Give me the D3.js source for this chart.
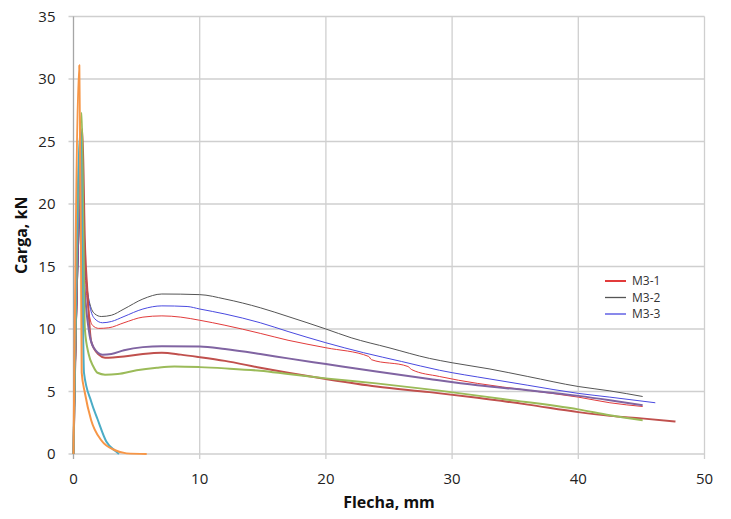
<!DOCTYPE html>
<html>
<head>
<meta charset="utf-8">
<script src="https://cdn.jsdelivr.net/npm/d3@7"></script>
<style>
  body { margin: 0; background: #fff; }
  svg text { font-family: "Open Sans", "Noto Sans", sans-serif; }
</style>
</head>
<body>
<div id="chart"></div>
<script>
// ensayos M3 : carga (kN) frente a flecha (mm)
var xTicks = [0, 10, 20, 30, 40, 50];
var yTicks = [0, 5, 10, 15, 20, 25, 30, 35];

var m31 = [[0,0],[0.7,22],[0.9,15],[1.2,11.5],[1.5,10.3],[2.0,10.05],[2.8,10.1],[4,10.5],[5.5,10.95],[7,11.05],[8.5,10.95],[10,10.7],[12,10.3],[14.8,9.65],[17,9.1],[20,8.5],[23.4,7.8],[23.6,7.55],[26.5,7.0],[26.8,6.75],[29,6.2],[32,5.65],[36,5.1],[40,4.55],[42.5,4.1],[45.1,3.8]];
var m32 = [[0,0],[0.7,22],[0.95,15],[1.3,12],[1.7,11.2],[2.2,11.0],[3,11.1],[4,11.6],[5.5,12.4],[7,12.8],[10,12.75],[12,12.4],[14.8,11.7],[17,11.0],[20,10.0],[22,9.3],[25,8.5],[28.2,7.65],[30,7.3],[33,6.8],[36,6.2],[40,5.4],[42.5,5.05],[45.1,4.6]];
var m33 = [[0,0],[0.7,22],[0.95,15],[1.3,11.8],[1.7,10.8],[2.3,10.5],[3,10.6],[4,11.0],[5.5,11.6],[7,11.85],[9,11.8],[10,11.6],[12,11.2],[14.8,10.5],[17,9.8],[20,8.9],[23,8.1],[26,7.4],[29,6.7],[33,6.0],[36,5.5],[40,4.85],[42.5,4.55],[46.1,4.1]];
var serieRoja = [[0,0],[0.7,26],[0.9,17],[1.1,13],[1.4,9],[2,7.95],[2.5,7.7],[4,7.8],[5.5,8.0],[7,8.1],[8.5,7.95],[10,7.75],[12,7.45],[14.8,6.9],[17,6.5],[20,6.0],[24,5.4],[28.2,4.95],[32,4.5],[36,3.95],[40,3.35],[42.5,3.05],[45,2.85],[47.7,2.6]];
var serieVerde = [[0,0],[0.65,27.3],[0.78,18],[0.9,10],[1.2,8],[1.57,7],[1.9,6.5],[2.5,6.35],[3.5,6.4],[5,6.7],[6.6,6.9],[8,7.0],[10,6.95],[12,6.85],[14.8,6.66],[17,6.4],[20,6.05],[24,5.65],[29,5.07],[34,4.4],[40,3.57],[42.5,3.1],[45.1,2.7]];
var serieMorada = [[0,0],[0.65,25],[0.8,15],[1.2,10],[1.6,8.5],[2.3,7.95],[3,8.0],[4,8.3],[5.5,8.55],[7,8.62],[10,8.6],[12,8.4],[14.8,8.0],[17,7.65],[20,7.2],[24,6.6],[28.2,6.0],[32,5.5],[36,5.1],[40,4.65],[42.5,4.3],[45.1,3.9]];
var serieCian = [[0,0],[0.55,26],[0.83,6.5],[1.4,4.2],[1.9,2.8],[2.6,1.0],[3.3,0.25],[3.6,0]];
var serieNaranja = [[0,0],[0.46,31.1],[0.6,15],[0.65,6.5],[0.9,4.9],[1.4,2.7],[2.2,1.1],[3.3,0.3],[4.2,0.05],[5.8,0]];

var series = [
  { name: 'M3-1', data: m31, color: '#e23b3b', width: 1 },
  { name: 'M3-2', data: m32, color: '#555555', width: 1 },
  { name: 'M3-3', data: m33, color: '#4a4ae0', width: 1 },
  { name: null, data: serieRoja, color: '#c0504d', width: 2 },
  { name: null, data: serieMorada, color: '#8064a2', width: 2 },
  { name: null, data: serieVerde, color: '#9bbb59', width: 2 },
  { name: null, data: serieCian, color: '#4bacc6', width: 2 },
  { name: null, data: serieNaranja, color: '#f79646', width: 2 }
];
var leyenda = ['M3-1', 'M3-2', 'M3-3'];

var W = 731, H = 519;
var m = { left: 73.5, right: 26.5, top: 16.5, bottom: 65 };

var svg = d3.select('#chart').append('svg')
  .attr('width', W)
  .attr('height', H);

var x = d3.scaleLinear().domain([0, 50]).range([m.left, W - m.right]);
var y = d3.scaleLinear().domain([0, 35]).range([H - m.bottom, m.top]);

// rejilla horizontal
svg.append('g').selectAll('line')
  .data(yTicks)
  .enter().append('line')
  .attr('x1', m.left - 5)
  .attr('x2', W - m.right)
  .attr('y1', function(d) { return y(d); })
  .attr('y2', function(d) { return y(d); })
  .attr('stroke', '#cfcfcf')
  .attr('stroke-width', 1.3);

// rejilla vertical
svg.append('g').selectAll('line')
  .data(xTicks)
  .enter().append('line')
  .attr('x1', function(d) { return x(d); })
  .attr('x2', function(d) { return x(d); })
  .attr('y1', m.top)
  .attr('y2', H - m.bottom + 5)
  .attr('stroke', function(d) { return d === 0 ? '#a6a6a6' : '#cfcfcf'; })
  .attr('stroke-width', 1.3);

// etiquetas de ejes
svg.append('g').selectAll('text')
  .data(yTicks)
  .enter().append('text')
  .attr('x', m.left - 18)
  .attr('y', function(d) { return y(d); })
  .attr('dy', '0.36em')
  .attr('text-anchor', 'end')
  .attr('font-size', 15)
  .attr('fill', '#222')
  .text(function(d) { return d; });

svg.append('g').selectAll('text')
  .data(xTicks)
  .enter().append('text')
  .attr('x', function(d) { return x(d); })
  .attr('y', H - m.bottom + 25)
  .attr('dy', '0.36em')
  .attr('text-anchor', 'middle')
  .attr('font-size', 15)
  .attr('fill', '#222')
  .text(function(d) { return d; });

svg.append('text')
  .attr('x', (m.left + W - m.right) / 2)
  .attr('y', 508)
  .attr('text-anchor', 'middle')
  .attr('font-size', 16)
  .attr('font-weight', 'bold')
  .attr('fill', '#111')
  .text('Flecha, mm');

svg.append('text')
  .attr('transform', 'translate(27,' + ((m.top + H - m.bottom) / 2) + ') rotate(-90)')
  .attr('text-anchor', 'middle')
  .attr('font-size', 16)
  .attr('font-weight', 'bold')
  .attr('fill', '#111')
  .text('Carga, kN');

// curvas
var line = d3.line()
  .x(function(d) { return x(d[0]); })
  .y(function(d) { return y(d[1]); })
  .curve(d3.curveMonotoneX);

svg.append('g').selectAll('path')
  .data(series)
  .enter().append('path')
  .attr('d', function(d) { return line(d.data); })
  .attr('fill', 'none')
  .attr('stroke', function(d) { return d.color; })
  .attr('stroke-width', function(d) { return d.width; })
  .attr('stroke-linejoin', 'round');

// leyenda
var leg = svg.append('g').selectAll('g')
  .data(series.filter(function(s) { return leyenda.indexOf(s.name) >= 0; }))
  .enter().append('g')
  .attr('transform', function(d, i) { return 'translate(605,' + (281 + i * 16.5) + ')'; });

leg.append('line')
  .attr('x1', 0).attr('x2', 21)
  .attr('stroke', function(d) { return d.color; })
  .attr('stroke-width', function(d, i) { return i === 0 ? 2 : 1.3; });

leg.append('text')
  .attr('x', 27)
  .attr('dy', '0.36em')
  .attr('font-size', 12)
  .attr('fill', '#333')
  .text(function(d) { return d.name; });
</script>
</body>
</html>
